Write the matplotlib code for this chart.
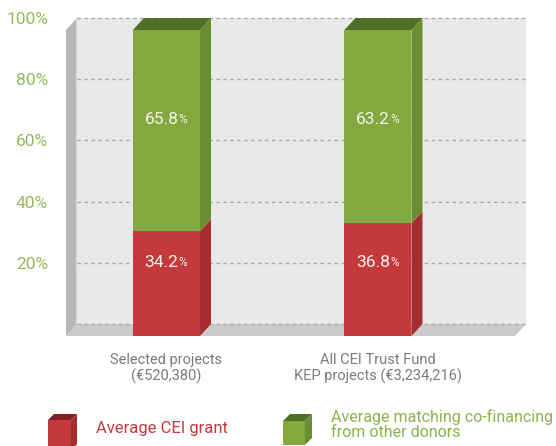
import matplotlib.pyplot as plt
from matplotlib.patches import Polygon

categories = ['Selected projects\n(€520,380)', 'All CEI Trust Fund\nKEP projects (€3,234,216)']
cei_grant = [34.2, 36.8]
co_financing = [65.8, 63.2]
y_ticks = [20, 40, 60, 80, 100]
legend_labels = ['Average CEI grant', 'Average matching co-financing\nfrom other donors']

RED, RED_SIDE, RED_TOP = '#c4393c', '#a52c2f', '#851e21'
GREEN, GREEN_SIDE, GREEN_TOP = '#84a840', '#6a8e34', '#4f6f27'
plt.rcParams['font.family'] = ['Roboto', 'DejaVu Sans']

W, H = 556, 446
DX, DY = 0.052, 3.92   # 3d depth offset in data units
BW = 0.317


def px_box(left, right, top, bottom):
    return [left / W, 1 - bottom / H, (right - left) / W, (bottom - top) / H]


def poly(ax, pts, color, z, clip=False):
    ax.add_patch(Polygon(pts, closed=True, facecolor=color, edgecolor='none',
                         zorder=z, clip_on=clip))


fig = plt.figure(figsize=(W / 100, H / 100), dpi=100)
ax = fig.add_axes(px_box(66, 526, 18, 336))
x0, x1 = -0.475, 1.700 - DX
ax.set_xlim(-0.475, 1.700)
ax.set_ylim(0, 100 + DY)
for s in ax.spines.values():
    s.set_visible(False)
ax.patch.set_visible(False)

# walls and floor
poly(ax, [(x0 + DX, DY), (x1 + DX, DY), (x1 + DX, 100 + DY), (x0 + DX, 100 + DY)], '#e9e9e9', 0)
poly(ax, [(x0, 0), (x0 + DX, DY), (x0 + DX, 100 + DY), (x0, 100)], '#b7b7b7', 1)
poly(ax, [(x0, 0), (x1, 0), (x1 + DX, DY), (x0 + DX, DY)], '#cbcbcb', 1)
ax.plot([x0 + DX - 0.004] * 2, [DY, 100 + DY], color='#d5d5d5', lw=1, zorder=1.5)
for v in [0] + y_ticks:
    ax.plot([x0 + DX, x1 + DX], [v + DY, v + DY], color='#a8a8a8', lw=1,
            ls=(0, (2.5, 2.5)), zorder=2, clip_on=False)

xs = list(range(len(categories)))
ax.bar(xs, cei_grant, BW, color=RED, zorder=4)
ax.bar(xs, co_financing, BW, bottom=cei_grant, color=GREEN, zorder=4)
for x, g, c in zip(xs, cei_grant, co_financing):
    r = x + BW / 2
    poly(ax, [(r, 0), (r + DX, DY), (r + DX, g + DY), (r, g)], RED_SIDE, 3.5)
    poly(ax, [(r, g), (r + DX, g + DY), (r + DX, g + c + DY), (r, g + c)], GREEN_SIDE, 3.5)
    t = g + c
    poly(ax, [(x - BW / 2, t), (r, t), (r + DX, t + DY), (x - BW / 2 + DX, t + DY)], GREEN_TOP, 3.5)
    for val, yy in [(g, 24), (c, 70.8)]:
        num = ax.annotate(f'{val:.1f}', (x, yy), xytext=(-5, 0), textcoords='offset pixels',
                          ha='center', va='center', color='#f4f4ea', fontsize=12.5, zorder=6)
        ax.annotate('%', xy=(1, 0), xycoords=num, xytext=(0, 1), textcoords='offset pixels',
                    ha='left', va='bottom', color='#f4f4ea', fontsize=8.5, zorder=6)

ax.set_xticks(xs, categories, color='#7b7b7b', fontsize=10.5, linespacing=1.15)
ax.set_yticks([v + DY for v in y_ticks], [f'{v}%' for v in y_ticks], color='#96b95a', fontsize=12.5)
ax.tick_params(axis='x', length=0, pad=12)
ax.tick_params(axis='y', length=0, pad=13)

# legend drawn as little cubes
lg = fig.add_axes([0, 0, 1, 1])
lg.set_xlim(0, W)
lg.set_ylim(H, 0)
lg.axis('off')


def cube(left, top, w, h, d, front, side, topc):
    poly(lg, [(left, top), (left + w, top), (left + w, top + h), (left, top + h)], front, 2, True)
    poly(lg, [(left, top), (left + d, top - d), (left + w + d, top - d), (left + w, top)], topc, 2, True)
    poly(lg, [(left + w, top), (left + w + d, top - d), (left + w + d, top + h - d), (left + w, top + h)], side, 2, True)


cube(48, 420, 23, 30, 6, RED, RED_SIDE, RED_TOP)
cube(283, 421, 22, 24, 7, GREEN, GREEN_SIDE, GREEN_TOP)
lg.text(96, 428, legend_labels[0], color=RED, fontsize=12, va='center', ha='left')
lg.text(331, 409, legend_labels[1], color='#8ab24c', fontsize=11.5, va='top', ha='left',
        linespacing=1.0)

fig.savefig('out.png', dpi=100)
